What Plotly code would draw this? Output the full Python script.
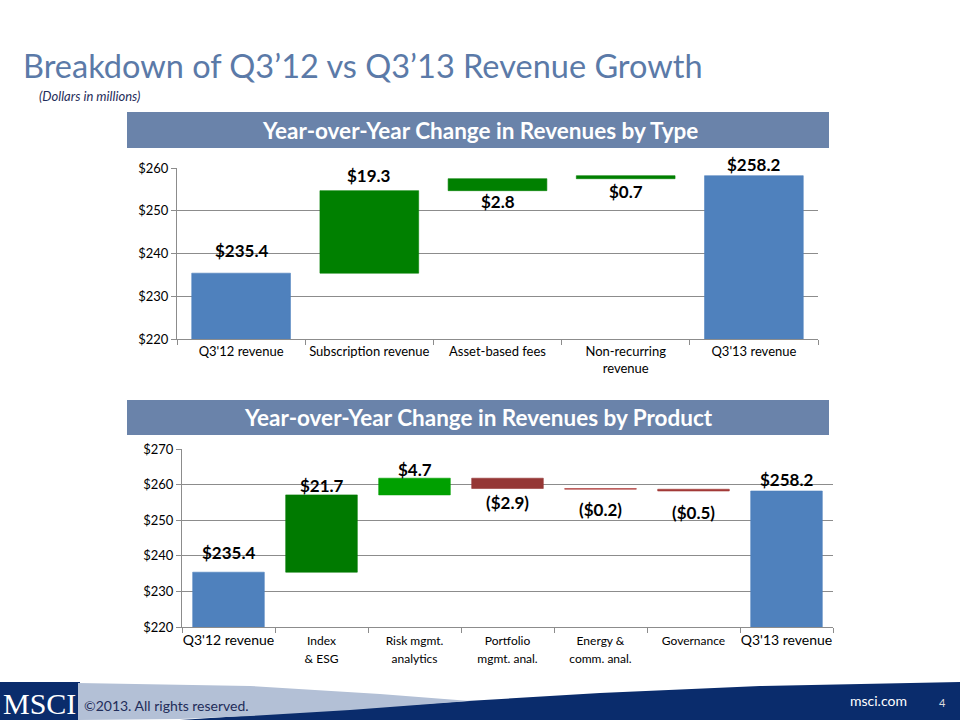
import plotly.graph_objects as go

# ---------------- data ----------------
type_categories = ["Q3'12 revenue", "Subscription revenue", "Asset-based fees",
                   "Non-recurring<br>revenue", "Q3'13 revenue"]
type_values = [235.4, 19.3, 2.8, 0.7, 258.2]
type_kinds = ["total", "delta", "delta", "delta", "total"]

product_categories = ["Q3'12 revenue", "Index<br>& ESG", "Risk mgmt.<br>analytics",
                      "Portfolio<br>mgmt. anal.", "Energy &<br>comm. anal.",
                      "Governance", "Q3'13 revenue"]
product_values = [235.4, 21.7, 4.7, -2.9, -0.2, -0.5, 258.2]
product_kinds = ["total", "delta", "delta", "delta", "delta", "delta", "total"]

y_ticks_type = [220, 230, 240, 250, 260]
y_ticks_product = [220, 230, 240, 250, 260, 270]

# ---------------- styles ----------------
W, H = 960, 720
FONT = "Lato"
BLUE = "#4F81BD"
NAVY = "#0A2C6C"
type_colors = [BLUE, "#008000", "#008000", "#008000", BLUE]
product_colors = [BLUE, "#007A00", "#00A000", "#953735", "#B0403E", "#A33A38", BLUE]
type_label_side = ["above", "above", "below", "below", "above"]
type_label_shift = [23, 15, -11, -13, 11]
product_label_side = ["above", "above", "above", "below", "below", "below", "above"]
product_label_shift = [20, 9, 9, -14, -20, -21, 12]


def px(x):
    return x / W


def py(y):
    return 1 - y / H


def waterfall(values, kinds):
    bases, heights = [], []
    run = 0.0
    for v, k in zip(values, kinds):
        if k == "total":
            bases.append(0.0)
            heights.append(v)
            run = v
        else:
            bases.append(run)
            heights.append(v)
            run += v
    return bases, heights


def fmt(v, k):
    if k == "total" or v >= 0:
        return "$%.1f" % abs(v)
    return "($%.1f)" % abs(v)


fig = go.Figure()
annotations = []

for idx, (cats, vals, kinds, cols, sides, shifts, ax) in enumerate([
    (type_categories, type_values, type_kinds, type_colors, type_label_side, type_label_shift, ""),
    (product_categories, product_values, product_kinds, product_colors, product_label_side,
     product_label_shift, "2"),
]):
    bases, heights = waterfall(vals, kinds)
    fig.add_trace(go.Bar(
        x=cats, y=heights, base=bases, width=0.77,
        marker=dict(color=cols, line=dict(color=cols, width=0.6)),
        xaxis="x" + ax, yaxis="y" + ax, showlegend=False, hoverinfo="skip",
    ))
    for c, b, h, k, s, sh in zip(cats, bases, heights, kinds, sides, shifts):
        top = max(b, b + h)
        bot = min(b, b + h)
        annotations.append(dict(
            x=c, y=top if s == "above" else bot, xref="x" + ax, yref="y" + ax,
            text="<b>%s</b>" % fmt(h, k), showarrow=False, yshift=sh,
            font=dict(family=FONT, size=17, color="#000000"),
        ))

axis_common = dict(showline=True, linecolor="#8C8C8C", linewidth=1, ticks="outside",
                   tickcolor="#8C8C8C", ticklen=5, fixedrange=True, automargin=False)

product_ticktext = []
for c in product_categories:
    if "revenue" in c:
        product_ticktext.append(c)
    else:
        product_ticktext.append('<span style="font-size:12px">%s</span>' % c)

fig.update_layout(
    width=W, height=H, margin=dict(l=0, r=0, t=0, b=0, pad=0, autoexpand=False),
    paper_bgcolor="white", plot_bgcolor="white",
    bargap=0.23,
    xaxis=dict(domain=[px(177), px(818)], anchor="y", type="category", tickangle=0,
               tickson="boundaries", tickfont=dict(family=FONT, size=13, color="#000"),
               **axis_common),
    yaxis=dict(domain=[py(339), py(168)], anchor="x", range=[220, 260],
               tickvals=y_ticks_type, ticktext=["$%d" % t for t in y_ticks_type],
               showgrid=True, gridcolor="#8C8C8C", gridwidth=1,
               tickfont=dict(family=FONT, size=13, color="#000"), **axis_common),
    xaxis2=dict(domain=[px(182), px(833)], anchor="y2", type="category", tickangle=0,
                tickson="boundaries", tickvals=product_categories, ticktext=product_ticktext,
                tickfont=dict(family=FONT, size=14, color="#000"), **axis_common),
    yaxis2=dict(domain=[py(627), py(449)], anchor="x2", range=[220, 270],
                tickvals=y_ticks_product, ticktext=["$%d" % t for t in y_ticks_product],
                showgrid=True, gridcolor="#8C8C8C", gridwidth=1,
                tickfont=dict(family=FONT, size=13, color="#000"), **axis_common),
)

shapes = []
# header bars
for (y0, y1) in [(112, 148), (400, 435)]:
    shapes.append(dict(type="rect", xref="paper", yref="paper",
                       x0=px(127), x1=px(829), y0=py(y1), y1=py(y0),
                       fillcolor="#6A83AA", line=dict(width=0), layer="below"))


def path(points):
    s = "M %f,%f " % (px(points[0][0]), py(points[0][1]))
    for p in points[1:]:
        s += "L %f,%f " % (px(p[0]), py(p[1]))
    return s + "Z"


# footer
shapes.append(dict(type="path", xref="paper", yref="paper",
                   path=path([(0, 720), (0, 682), (80, 682), (80, 720)]),
                   fillcolor=NAVY, line=dict(width=0)))
shapes.append(dict(type="path", xref="paper", yref="paper",
                   path=path([(180, 720), (300, 712), (467, 701), (600, 693), (760, 686),
                              (960, 682), (960, 720)]),
                   fillcolor=NAVY, line=dict(width=0)))
shapes.append(dict(type="path", xref="paper", yref="paper",
                   path=path([(78, 683), (250, 686), (380, 694), (470, 701), (350, 710),
                              (250, 716), (180, 719), (78, 720)]),
                   fillcolor="#B3C0D6", line=dict(width=0)))

annotations += [
    dict(x=px(21), y=py(65), xref="paper", yref="paper", xanchor="left", yanchor="middle",
         text="Breakdown of Q3’12 vs Q3’13 Revenue Growth", showarrow=False,
         font=dict(family=FONT, size=32.5, color="#5B7AA8")),
    dict(x=px(37), y=py(96), xref="paper", yref="paper", xanchor="left", yanchor="middle",
         text="<i>(Dollars in millions)</i>", showarrow=False,
         font=dict(family=FONT, size=13, color="#1F2D5A")),
    dict(x=px(480), y=py(130), xref="paper", yref="paper", xanchor="center", yanchor="middle",
         text="<b>Year-over-Year Change in Revenues by Type</b>", showarrow=False,
         font=dict(family=FONT, size=22.5, color="white")),
    dict(x=px(478), y=py(417), xref="paper", yref="paper", xanchor="center", yanchor="middle",
         text="<b>Year-over-Year Change in Revenues by Product</b>", showarrow=False,
         font=dict(family=FONT, size=22.5, color="white")),
    dict(x=px(39), y=py(703), xref="paper", yref="paper", xanchor="center", yanchor="middle",
         text="MSCI", showarrow=False,
         font=dict(family="Liberation Serif", size=30, color="white")),
    dict(x=px(82), y=py(705), xref="paper", yref="paper", xanchor="left", yanchor="middle",
         text="©2013. All rights reserved.", showarrow=False,
         font=dict(family=FONT, size=14, color="#1F2D5A")),
    dict(x=px(878), y=py(700), xref="paper", yref="paper", xanchor="center", yanchor="middle",
         text="msci.com", showarrow=False,
         font=dict(family=FONT, size=14, color="white")),
    dict(x=px(942), y=py(702), xref="paper", yref="paper", xanchor="center", yanchor="middle",
         text="4", showarrow=False,
         font=dict(family=FONT, size=11, color="#DDDDDD")),
]

fig.update_layout(shapes=shapes, annotations=annotations)
fig.write_html("out.html")
